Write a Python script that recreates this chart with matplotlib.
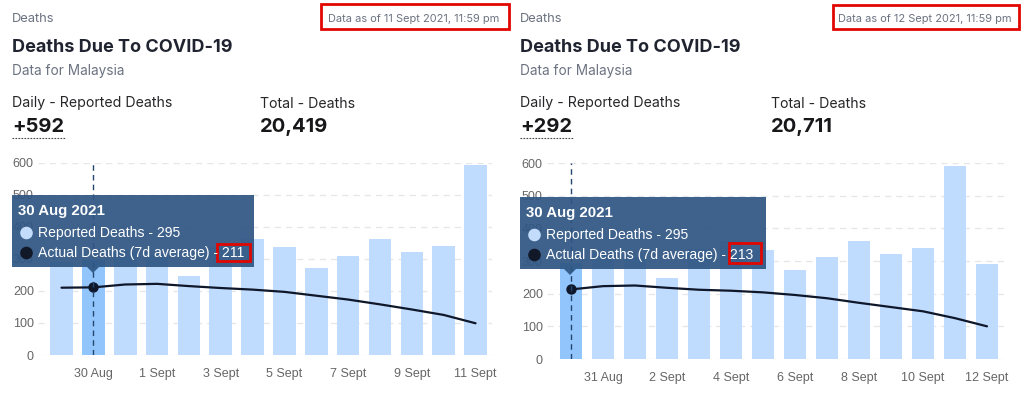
import matplotlib.pyplot as plt
from matplotlib.patches import Rectangle, Polygon, Circle

# two snapshots of the same dashboard card
left_dates = ['29 Aug', '30 Aug', '31 Aug', '1 Sept', '2 Sept', '3 Sept', '4 Sept',
              '5 Sept', '6 Sept', '7 Sept', '8 Sept', '9 Sept', '10 Sept', '11 Sept']
left_reported = [290, 295, 324, 312, 248, 338, 362, 336, 271, 310, 361, 322, 340, 592]
left_avg = [210, 211, 220, 222, 215, 209, 204, 197, 185, 173, 158, 142, 125, 99]

right_dates = ['30 Aug', '31 Aug', '1 Sept', '2 Sept', '3 Sept', '4 Sept', '5 Sept',
               '6 Sept', '7 Sept', '8 Sept', '9 Sept', '10 Sept', '11 Sept', '12 Sept']
right_reported = [295, 324, 312, 249, 338, 361, 335, 271, 311, 360, 322, 340, 592, 292]
right_avg = [213, 223, 225, 218, 212, 209, 204, 196, 186, 172, 159, 146, 125, 100]

left_total = '20,419'
right_total = '20,711'
left_asof = 'Data as of 11 Sept 2021, 11:59 pm'
right_asof = 'Data as of 12 Sept 2021, 11:59 pm'
hover_label = '30 Aug 2021'
left_hover = 1
right_hover = 0

W, H = 1024, 395
BAR = '#bfdbfe'
BAR_HI = '#93c5fd'
LINE = '#0f172a'
GRID = '#e3e6ea'
TICK = '#666666'
TIP = '#2f5683'
HEAD_FONT = ['Inter', 'DejaVu Sans']
CHART_FONT = ['Liberation Sans', 'DejaVu Sans']

fig = plt.figure(figsize=(W / 100, H / 100), dpi=100)
fig.patch.set_facecolor('white')


def add_chart(x0, x1, y_top, y_zero, first_center, pitch, dates, reported, avg, hover, tick_start):
    ax = fig.add_axes([x0 / W, 1 - y_zero / H, (x1 - x0) / W, (y_zero - y_top) / H])
    n = len(dates)
    xs = list(range(n))
    colors = [BAR_HI if i == hover else BAR for i in xs]
    ax.bar(xs, reported, width=0.71, color=colors, zorder=2)
    ax.plot(xs, avg, color=LINE, lw=1.6, zorder=3, solid_capstyle='round')
    ax.plot([hover], [avg[hover]], 'o', color=LINE, ms=6.5, zorder=4)
    ax.axvline(hover, color='#23466e', lw=1.0, ls=(0, (4, 3)), zorder=5)
    xmin = -(first_center - x0) / pitch
    xmax = (n - 1) + (x1 - (first_center + (n - 1) * pitch)) / pitch
    ax.set_xlim(xmin, xmax)
    ax.set_ylim(0, 600)
    ax.set_yticks(range(0, 601, 100))
    ticks = xs[tick_start::2]
    ax.set_xticks(ticks)
    ax.set_xticklabels([dates[i] for i in ticks])
    ax.yaxis.grid(True, color=GRID, lw=0.9, ls=(0, (5, 4)), zorder=0)
    ax.set_axisbelow(True)
    for s in ax.spines.values():
        s.set_visible(False)
    ax.tick_params(length=0, colors=TICK, labelsize=9)
    ax.tick_params(axis='x', pad=9)
    ax.tick_params(axis='y', pad=3)
    for lab in ax.get_xticklabels() + ax.get_yticklabels():
        lab.set_family(CHART_FONT)
    return ax


axl = add_chart(38, 492, 162.7, 355, 61.5, 31.85, left_dates, left_reported, left_avg,
                left_hover, 1)
axr = add_chart(547, 1004, 163, 359, 571, 32.0, right_dates, right_reported, right_avg,
                right_hover, 1)

# overlay in pixel coords for the header and tooltip
ov = fig.add_axes([0, 0, 1, 1])
ov.set_xlim(0, W)
ov.set_ylim(H, 0)
ov.axis('off')
ov.patch.set_alpha(0)


def header(x, total_x, asof_right, daily, total, asof, box):
    ov.text(x, 22.5, 'Deaths', fontsize=9.3, color='#6b7280', family=HEAD_FONT, va='baseline')
    ov.text(x, 52, 'Deaths Due To COVID-19', fontsize=13.0, weight='bold', color='#1f2430',
            family=HEAD_FONT, va='baseline')
    ov.text(x, 75.5, 'Data for Malaysia', fontsize=9.8, color='#6b7280', family=HEAD_FONT,
            va='baseline')
    ov.text(x, 107.5, 'Daily - Reported Deaths', fontsize=10.2, color='#27272a',
            family=HEAD_FONT, va='baseline')
    ov.text(total_x, 107.5, 'Total - Deaths', fontsize=10.2, color='#27272a',
            family=HEAD_FONT, va='baseline')
    ov.text(x, 132.5, '+{}'.format(daily), fontsize=14.5, weight='bold', color='#18181b',
            family=HEAD_FONT, va='baseline')
    ov.text(total_x, 132.5, total, fontsize=14.5, weight='bold', color='#18181b',
            family=HEAD_FONT, va='baseline')
    ov.plot([x, x + 53], [138, 138], color='#444444', lw=0.8, ls=(0, (1.5, 1.2)))
    ov.text(asof_right, 21.5, asof, fontsize=7.9, color='#6b7280', family=HEAD_FONT,
            ha='right', va='baseline')
    bx0, by0, bx1, by1 = box
    ov.add_patch(Rectangle((bx0, by0), bx1 - bx0, by1 - by0, fill=False, ec='#e10600', lw=2.0))


header(12, 260, 499, left_reported[-1], left_total, left_asof, (321, 4, 509, 29))
header(520, 771, 1012, right_reported[-1], right_total, right_asof, (833, 5, 1019, 29))


def tooltip(box, apex_x, title_x, reported, avg, hover, valbox):
    bx0, by0, bx1, by1 = box
    ov.add_patch(Rectangle((bx0, by0), bx1 - bx0, by1 - by0, fc=TIP, ec='none', alpha=0.93))
    ov.add_patch(Polygon([(apex_x - 6, by1), (apex_x + 6, by1), (apex_x, by1 + 6)],
                         closed=True, fc=TIP, ec='none', alpha=0.93))
    ov.text(title_x, by0 + 20, hover_label, fontsize=10.8, weight='bold', color='white',
            family=CHART_FONT, va='baseline')
    cx = title_x + 8.5
    ov.add_patch(Circle((cx, by0 + 38), 6.3, fc='#c4dcfc', ec='none'))
    ov.add_patch(Circle((cx, by0 + 58), 6.3, fc='#111827', ec='none'))
    ov.text(title_x + 20, by0 + 42.5, 'Reported Deaths - {}'.format(reported[hover]),
            fontsize=10.1, color='white', family=CHART_FONT, va='baseline')
    ov.text(title_x + 20, by0 + 62.5, 'Actual Deaths (7d average) - {}'.format(avg[hover]),
            fontsize=10.1, color='white', family=CHART_FONT, va='baseline')
    vx0, vy0, vx1, vy1 = valbox
    ov.add_patch(Rectangle((vx0, vy0), vx1 - vx0, vy1 - vy0, fill=False, ec='#e10600', lw=2.0))


tooltip((12, 195, 254, 267), 93, 18, left_reported, left_avg, left_hover, (217, 244, 250, 261))
tooltip((520, 197, 766, 269), 570, 526, right_reported, right_avg, right_hover,
        (729, 243, 761, 263))

fig.savefig('out.png', dpi=100)
